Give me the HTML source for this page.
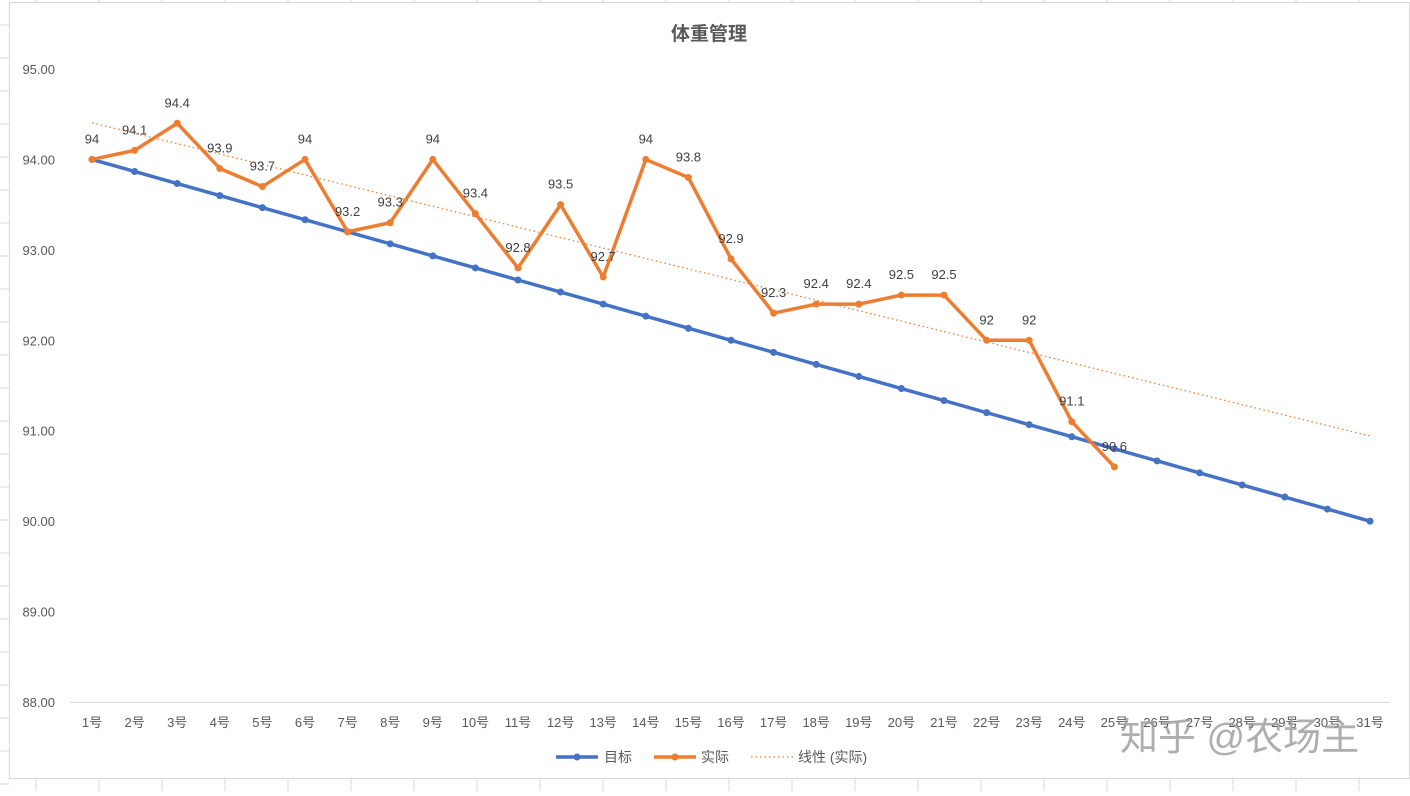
<!DOCTYPE html>
<html><head><meta charset="utf-8"><style>
body{margin:0;background:#fff;width:1410px;height:791px;overflow:hidden;font-family:"Liberation Sans","Noto Sans CJK SC",sans-serif}
svg text{font-family:"Liberation Sans","Noto Sans CJK SC",sans-serif}
</style></head><body>
<svg id="c" width="1410" height="791">
<g id="grid" stroke="#d9d9d9" stroke-width="1"></g>
<rect x="9.5" y="2.5" width="1400" height="776" fill="#fff" stroke="#d9d9d9"/>
<text x="709" y="40" text-anchor="middle" font-size="19" font-weight="bold" fill="#595959">体重管理</text>
<g id="plot"></g>
<g>
<line x1="556" y1="757" x2="598" y2="757" stroke="#4472c4" stroke-width="3.5"/><circle cx="577" cy="757" r="3.5" fill="#4472c4"/>
<text x="604" y="762" font-size="14" fill="#595959">目标</text>
<line x1="654" y1="757" x2="696" y2="757" stroke="#ed7d31" stroke-width="3.5"/><circle cx="675" cy="757" r="3.5" fill="#ed7d31"/>
<text x="701" y="762" font-size="14" fill="#595959">实际</text>
<line x1="751" y1="757" x2="793" y2="757" stroke="#ed7d31" stroke-width="1.3" stroke-dasharray="1.5,3"/>
<text x="798" y="762" font-size="14" fill="#595959">线性 (实际)</text>
</g>
<text x="1120" y="750" font-size="38" fill="#9a9a9a" opacity="0.8">知乎 @农场主</text>
</svg>
<script>
const days=[];for(let i=1;i<=31;i++)days.push(i+'号');
const target=[];for(let i=0;i<31;i++)target.push(94-4*i/30);
const actual=[94,94.1,94.4,93.9,93.7,94,93.2,93.3,94,93.4,92.8,93.5,92.7,94,93.8,92.9,92.3,92.4,92.4,92.5,92.5,92,92,91.1,90.6];
const yTicks=[88,89,90,91,92,93,94,95];
const NS='http://www.w3.org/2000/svg';
const X=i=>92+i*(1370-92)/30;
const Y=v=>702-(v-88)*(702-69)/7;
const plot=document.getElementById('plot');
function mk(t,a,p){const e=document.createElementNS(NS,t);for(const k in a)e.setAttribute(k,a[k]);(p||plot).appendChild(e);return e;}
// spreadsheet grid
const g=document.getElementById('grid');
for(let y=25;y<791;y+=33)mk('line',{x1:0,x2:9,y1:y,y2:y},g);
for(let x=36;x<1410;x+=63){mk('line',{x1:x,x2:x,y1:0,y2:3},g);mk('line',{x1:x,x2:x,y1:779,y2:791},g);}
mk('line',{x1:70,x2:1390,y1:702.5,y2:702.5,stroke:'#d9d9d9'});
yTicks.forEach(v=>{const t=mk('text',{x:55,y:Y(v)+5,'text-anchor':'end','font-size':13,fill:'#595959'});t.textContent=v.toFixed(2);

});
days.forEach((d,i)=>{const t=mk('text',{x:X(i),y:727,'text-anchor':'middle','font-size':13,fill:'#595959'});t.textContent=d;

});
// trend
const n=actual.length;let sx=0,sy=0,sxy=0,sxx=0;actual.forEach((v,i)=>{sx+=i;sy+=v;sxy+=i*v;sxx+=i*i;});
const b=(n*sxy-sx*sy)/(n*sxx-sx*sx),a=(sy-b*sx)/n;
const tr=mk('line',{x1:X(0),y1:Y(a),x2:X(30),y2:Y(a+b*30),stroke:'#ed7d31','stroke-width':1.3,'stroke-dasharray':'1.5,3'});


function series(vals,col,name){const p=mk('polyline',{points:vals.map((v,i)=>X(i)+','+Y(v)).join(' '),fill:'none',stroke:col,'stroke-width':3.5,'stroke-linejoin':'round'});


vals.forEach((v,i)=>{const c=mk('circle',{cx:X(i),cy:Y(v),r:3.5,fill:col});

});}
series(target,'#4472c4','target');
series(actual,'#ed7d31','actual');
actual.forEach((v,i)=>{const t=mk('text',{x:X(i),y:Y(v)-16,'text-anchor':'middle','font-size':13,fill:'#404040'});t.textContent=String(v);

});
</script>
</body></html>
